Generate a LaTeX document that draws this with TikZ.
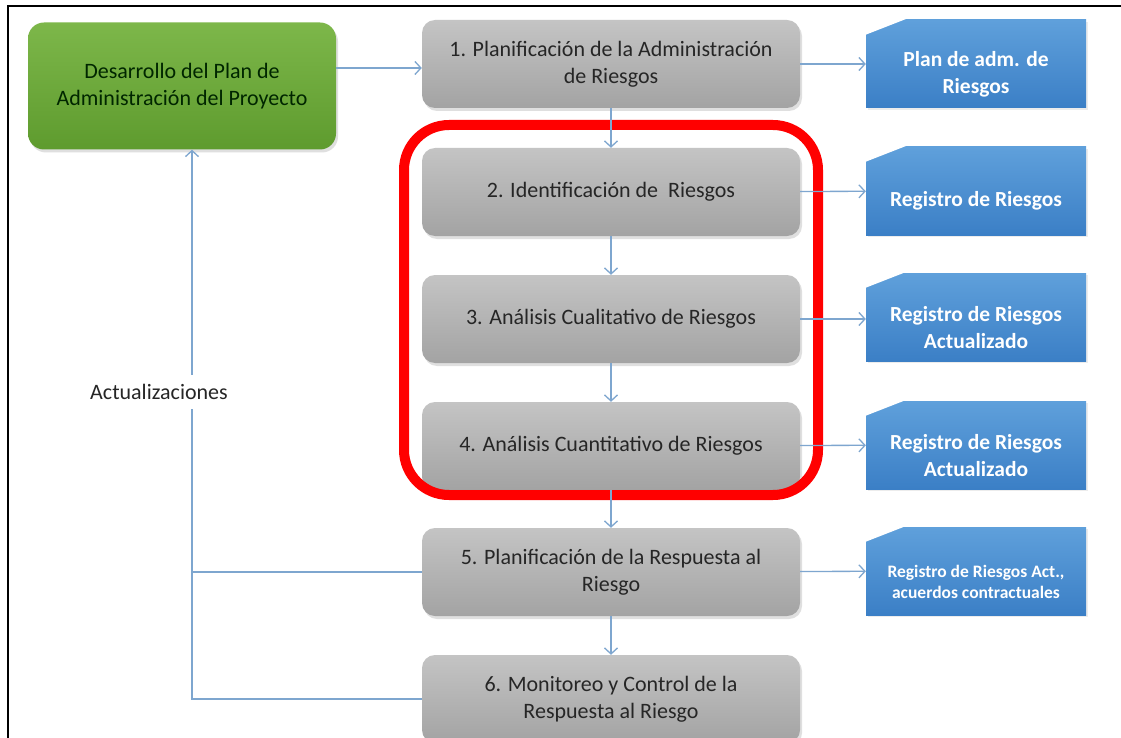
\documentclass[tikz,border=0pt]{standalone}
\usepackage{fontspec}
\setmainfont{Carlito}
\usetikzlibrary{arrows.meta,shadows}
\definecolor{conn}{HTML}{7EA6CF}
\definecolor{txtg}{HTML}{262626}
\definecolor{greentop}{HTML}{7DB74A}
\definecolor{greenbot}{HTML}{5E9B2E}
\definecolor{graytop}{HTML}{C4C4C4}
\definecolor{graybot}{HTML}{A3A3A3}
\definecolor{bluetop}{HTML}{5FA0DB}
\definecolor{bluebot}{HTML}{3B7FC6}
\newcommand\docstrut[1][35.5pt]{\rule{0pt}{#1}}
\tikzset{
  conline/.style={draw=conn, line width=1.3pt},
  arr/.style={conline, -{Straight Barb[length=6pt,width=13pt,line width=1.3pt]}},
  greenbox/.style={rounded corners=16pt, top color=greentop, bottom color=greenbot,
    minimum width=308pt, minimum height=127pt, inner sep=0pt, align=center,
    text=black!85!green, font=\fontsize{22}{27}\selectfont,
    drop shadow={opacity=0.25, shadow xshift=2pt, shadow yshift=-3pt}},
  graybox/.style={rounded corners=13pt, top color=graytop, bottom color=graybot,
    minimum width=378pt, minimum height=88pt, inner sep=0pt, align=center,
    text=txtg, font=\fontsize{22}{27}\selectfont,
    drop shadow={opacity=0.25, shadow xshift=2pt, shadow yshift=-3pt}},
  doc/.style={rectangle, top color=bluetop, bottom color=bluebot,
    minimum width=220pt, minimum height=88pt, inner sep=0pt, align=center,
    text=white, font=\fontsize{21.5}{27}\selectfont\bfseries,
    drop shadow={opacity=0.15, shadow xshift=2pt, shadow yshift=-2pt},
    path picture={\fill[white] ([xshift=-1pt,yshift=1pt]path picture bounding box.north west)
      -- ++(41pt,0pt) -- ++(-41pt,-16pt) -- cycle;}},
  redframe/.style={draw=red, line width=10pt, rounded corners=45pt},
}
\begin{document}
\begin{tikzpicture}[x=1pt,y=-1pt]
\useasboundingbox (0,0) rectangle (1121,738);
\fill[white] (0,0) rectangle (1121,738);
\draw[black, line width=2.5pt] (8,745) -- (8,6) -- (1130,6);

\node[greenbox] (g) at (182,86) {Desarrollo del Plan de\\Administración del Proyecto};

\node[graybox] (b1) at (611,64) {1. Planificación de la Administración\\de Riesgos};
\node[graybox] (b2) at (611,192) {2. Identificación de \ Riesgos};
\node[graybox] (b3) at (611,319) {3. Análisis Cualitativo de Riesgos};
\node[graybox] (b4) at (611,446) {4. Análisis Cuantitativo de Riesgos};
\node[graybox] (b5) at (611,572) {5. Planificación de la Respuesta al\\Riesgo};
\node[graybox] (b6) at (611,699) {6. Monitoreo y Control de la\\Respuesta al Riesgo};

\node[doc] (d1) at (976,64) {\docstrut Plan de adm. de\\Riesgos};
\node[doc] (d2) at (976,191) {\docstrut Registro de Riesgos};
\node[doc] (d3) at (976,317) {\docstrut Registro de Riesgos\\Actualizado};
\node[doc] (d4) at (976,445) {\docstrut Registro de Riesgos\\Actualizado};
\node[doc, font=\fontsize{17.5}{21}\selectfont\bfseries] (d5) at (976,571) {\docstrut[34pt]Registro de Riesgos Act.,\\acuerdos contractuales};

\draw[redframe] (404,125) rectangle (818,495);

% connectors
\draw[arr] ([yshift=-4pt]b1.west -| g.east) -- ([yshift=-4pt]b1.west);
\draw[arr] (b1) -- (d1);
\draw[arr] (b2) -- (d2);
\draw[arr] (b3.east) -- (b3.east -| d3.west);
\draw[arr] (b4) -- (d4);
\draw[arr] (b5) -- (d5);
\draw[arr] (b1) -- (b2);
\draw[arr] (b2) -- (b3);
\draw[arr] (b3) -- (b4);
\draw[arr] (b4) -- (b5);
\draw[arr] (b5) -- (b6);

\coordinate (upd) at (192,699);
\draw[arr] (b6.west) -- (upd) -- ([xshift=10pt]g.south);
\draw[conline] (b5.west) -- (b5.west -| upd);
\node[fill=white, inner xsep=2pt, inner ysep=9pt, text=txtg, font=\fontsize{22}{27}\selectfont] (act) at (159,392) {Actualizaciones};
\end{tikzpicture}
\end{document}
